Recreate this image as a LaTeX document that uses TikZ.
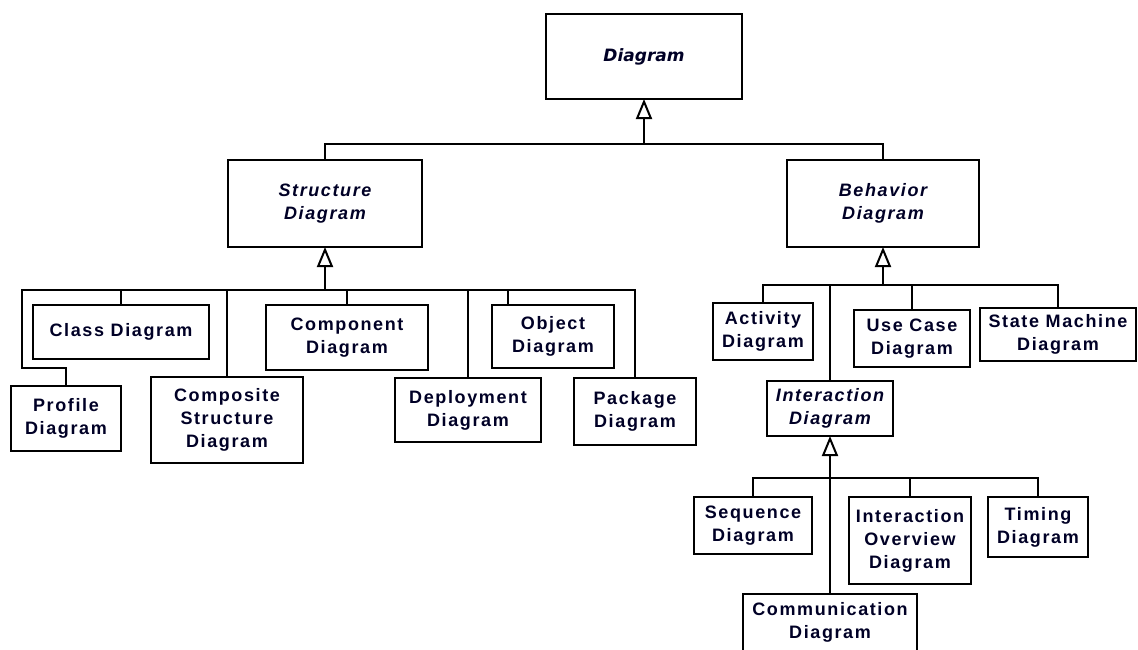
\documentclass[tikz,border=0pt]{standalone}
\usepackage{fontspec}
\setmainfont{Liberation Sans}
\newfontfamily\labelfont[LetterSpace=9]{Liberation Sans}
\newfontfamily\rootfont{DejaVu Sans}
\usetikzlibrary{arrows.meta}

\begin{document}
\begin{tikzpicture}[x=1pt,y=-1pt,
  box/.style={draw, line width=2pt, inner sep=0pt, outer sep=0pt,
    align=center, text=black!85!blue,
    font={\fontsize{18}{23}\labelfont\bfseries}},
  abstract/.style={box, font={\fontsize{18}{23}\labelfont\bfseries\itshape}},
  conn/.style={draw, line width=2pt},
  gen/.style={conn, -{Triangle[open, length=20pt, width=16pt, line width=2pt]}}]

\clip (0,0) rectangle (1138,649);
\fill[white] (0,0) rectangle (1138,649);

% root
\node[box, minimum width=196pt, minimum height=85pt,
  font={\fontsize{17}{23}\rootfont\bfseries\itshape}] (diagram) at (644,56.5) {Diagram};

% abstract categories
\node[abstract, minimum width=194pt, minimum height=87pt] (structure) at (325,203.5) {Structure\\Diagram};
\node[abstract, minimum width=192pt, minimum height=87pt] (behavior) at (883,203.5) {Behavior\\Diagram};

% structure diagrams
\node[box, minimum width=176pt, minimum height=54pt] (class) at (121,332) {Class Diagram};
\node[box, minimum width=110pt, minimum height=65pt] (profile) at (66,418.5) {Profile\\Diagram};
\node[box, minimum width=152pt, minimum height=86pt] (composite) at (227,420) {Composite\\Structure\\Diagram};
\node[box, minimum width=162pt, minimum height=65pt] (component) at (347,337.5) {Component\\Diagram};
\node[box, minimum width=146pt, minimum height=64pt] (deployment) at (468,410) {Deployment\\Diagram};
\node[box, minimum width=122pt, minimum height=63pt] (object) at (553,336.5) {Object\\Diagram};
\node[box, minimum width=122pt, minimum height=67pt] (package) at (635,411.5) {Package\\Diagram};

% behavior diagrams
\node[box, minimum width=100pt, minimum height=57pt] (activity) at (763,331.5) {Activity\\Diagram};
\node[abstract, minimum width=126pt, minimum height=55pt] (interaction) at (830,408.5) {Interaction\\Diagram};
\node[box, minimum width=116pt, minimum height=57pt] (usecase) at (912,338.5) {Use Case\\Diagram};
\node[box, minimum width=156pt, minimum height=53pt] (statemachine) at (1058,334.5) {State Machine\\Diagram};

% interaction diagrams
\node[box, minimum width=118pt, minimum height=57pt] (sequence) at (753,525.5) {Sequence\\Diagram};
\node[box, minimum width=122pt, minimum height=87pt] (overview) at (910,540.5) {Interaction\\Overview\\Diagram};
\node[box, minimum width=100pt, minimum height=60pt] (timing) at (1038,527) {Timing\\Diagram};
\node[box, minimum width=174pt, minimum height=57pt] (communication) at (830,622.5) {Communication\\Diagram};

% bus levels
\coordinate (tbus) at (0,144);
\coordinate (sbus) at (0,290);
\coordinate (bbus) at (0,285);
\coordinate (ibus) at (0,478);
\coordinate (pbend) at (22,368);
\coordinate (objtap) at (508,290);

% Diagram generalizations
\draw[conn] (structure.north) |- (behavior.north |- tbus) -- (behavior.north);
\draw[gen] (diagram.south |- tbus) -- (diagram.south);

% Structure Diagram generalizations
\draw[conn] (profile.north) |- (pbend) |- (package.north |- sbus) -- (package.north);
\foreach \n in {class,composite,component,deployment}
  \draw[conn] (\n.north |- sbus) -- (\n.north);
\draw[conn] (objtap) -- (objtap |- object.north);
\draw[gen] (structure.south |- sbus) -- (structure.south);

% Behavior Diagram generalizations
\draw[conn] (activity.north) |- (statemachine.north |- bbus) -- (statemachine.north);
\foreach \n in {interaction,usecase}
  \draw[conn] (\n.north |- bbus) -- (\n.north);
\draw[gen] (behavior.south |- bbus) -- (behavior.south);

% Interaction Diagram generalizations
\draw[conn] (sequence.north) |- (timing.north |- ibus) -- (timing.north);
\draw[conn] (overview.north |- ibus) -- (overview.north);
\draw[gen] (interaction.south |- communication.north) -- (interaction.south);

\end{tikzpicture}
\end{document}
